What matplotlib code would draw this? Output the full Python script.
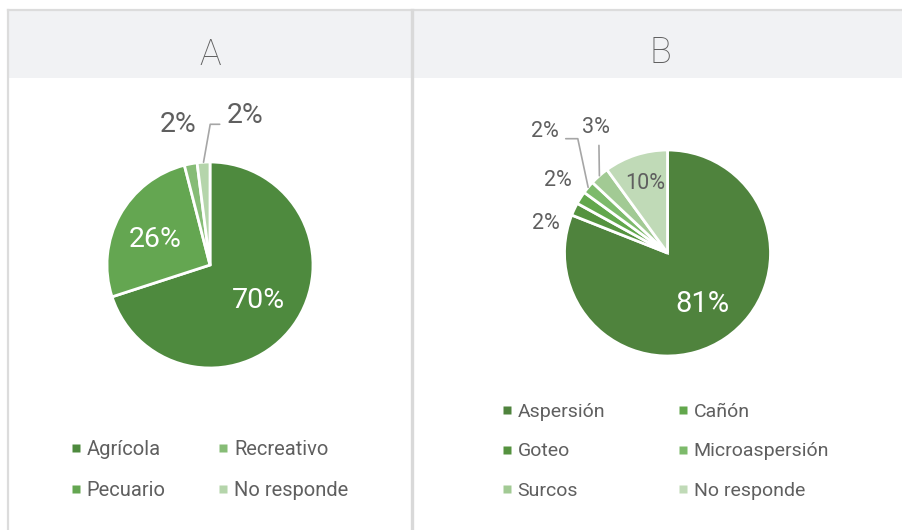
import matplotlib
matplotlib.use('Agg')
import matplotlib.pyplot as plt
from matplotlib.lines import Line2D
from matplotlib.patches import Rectangle
import numpy as np

plt.rcParams['font.family'] = ['Roboto', 'DejaVu Sans']

# ---------------- data ----------------
titles = ['A', 'B']
cats_a = ['Agrícola', 'Pecuario', 'Recreativo', 'No responde']
vals_a = [70, 26, 2, 2]
cats_b = ['Aspersión', 'Goteo', 'Cañón', 'Microaspersión', 'Surcos', 'No responde']
vals_b = [81, 2, 2, 2, 3, 10]

colors_a = ['#4e8a3e', '#64a651', '#86bc76', '#b5d5ab']
colors_b = ['#4f833d', '#55923f', '#62a74c', '#7dba6b', '#a2ca94', '#c0dab7']

TXT = '#5f5f5f'
LINE = '#a6a6a6'
W, H = 902, 530
R = 103

fig = plt.figure(figsize=(W / 100, H / 100), dpi=100)
fig.patch.set_facecolor('white')


def fx(px):
    return px / W


def fy(py):
    return 1 - py / H


# frame / title bands
fig.add_artist(Rectangle((fx(8), fy(78)), 1 - fx(8), (78 - 10) / H,
                         transform=fig.transFigure, facecolor='#f1f2f4',
                         edgecolor='none', zorder=0))
fig.add_artist(Line2D([fx(8), 1], [fy(10), fy(10)], color='#dcdcdc', lw=1.6,
                      transform=fig.transFigure))
fig.add_artist(Line2D([fx(8), fx(8)], [fy(10), 0], color='#dcdcdc', lw=1.6,
                      transform=fig.transFigure))
fig.add_artist(Line2D([fx(411.5), fx(411.5)], [fy(10), 0], color='#d9d9d9', lw=2.4,
                      transform=fig.transFigure))

LW = 'normal'
fig.text(fx(210), fy(55), titles[0], ha='center', va='center', fontsize=26,
         color=TXT, fontweight='light')
fig.text(fx(660), fy(53), titles[1], ha='center', va='center', fontsize=26,
         color=TXT, fontweight='light')


def make_pie(cx, cy, vals, cols):
    ax = fig.add_axes([fx(cx - R), fy(cy + R), 2 * R / W, 2 * R / H])
    wedges, _ = ax.pie(vals, colors=cols, startangle=90, counterclock=False,
                       radius=1, wedgeprops=dict(edgecolor='white', linewidth=2.0))
    ax.set_xlim(-1, 1)
    ax.set_ylim(-1, 1)
    ax.set_axis_off()
    return ax, wedges


def pct(vals, i):
    return f'{vals[i] / sum(vals) * 100:.0f}%'


def mid_point(w, r=1.0):
    a = np.deg2rad((w.theta1 + w.theta2) / 2)
    return r * np.cos(a), r * np.sin(a)


# ---------------- Pie A ----------------
axA, wA = make_pie(210, 265, vals_a, colors_a)
axA.text(*mid_point(wA[0], 0.58), pct(vals_a, 0), ha='center', va='center',
         fontsize=20.5, color='white', fontweight=LW)
axA.text(-0.53, 0.25, pct(vals_a, 1), ha='center', va='center',
         fontsize=20.5, color='white', fontweight=LW)
axA.text(-0.31, 1.36, pct(vals_a, 2), ha='center', va='center',
         fontsize=20.5, color=TXT, fontweight=LW)
axA.annotate(pct(vals_a, 3), xy=mid_point(wA[3], 1.0), xytext=(0.34, 1.45),
             ha='center', va='center', fontsize=20.5, color=TXT, fontweight=LW,
             arrowprops=dict(arrowstyle='-', color=LINE, lw=1.2, shrinkA=3, shrinkB=0,
                             relpos=(0, 0.18),
                             connectionstyle='angle,angleA=0,angleB=80,rad=0'))

# ---------------- Pie B ----------------
axB, wB = make_pie(667.5, 253, vals_b, colors_b)
axB.text(*mid_point(wB[0], 0.6), pct(vals_b, 0), ha='center', va='center',
         fontsize=21, color='white', fontweight=LW)
axB.text(*mid_point(wB[5], 0.714), pct(vals_b, 5), ha='center', va='center',
         fontsize=15.5, color=TXT, fontweight=LW)
axB.text(-1.18, 0.29, pct(vals_b, 1), ha='center', va='center', fontsize=15.5,
         color=TXT, fontweight=LW)
axB.text(-1.063, 0.70, pct(vals_b, 2), ha='center', va='center', fontsize=15.5,
         color=TXT, fontweight=LW)
axB.annotate(pct(vals_b, 3), xy=mid_point(wB[3], 1.0), xytext=(-1.19, 1.175),
             ha='center', va='center', fontsize=15.5, color=TXT, fontweight=LW,
             arrowprops=dict(arrowstyle='-', color=LINE, lw=1.2, shrinkA=3, shrinkB=0,
                             relpos=(1, 0.18),
                             connectionstyle='angle,angleA=0,angleB=102,rad=0'))
axB.annotate(pct(vals_b, 4), xy=mid_point(wB[4], 1.0), xytext=(-0.694, 1.214),
             ha='center', va='center', fontsize=15.5, color=TXT, fontweight=LW,
             arrowprops=dict(arrowstyle='-', color=LINE, lw=1.2, shrinkA=3, shrinkB=0,
                             relpos=(0.6, 0.1), connectionstyle='arc3,rad=0'))


# ---------------- legends ----------------
def col_legend(idx, cats, cols, x, y, fs, spacing):
    handles = [Line2D([], [], marker='s', ls='none', markersize=5.8,
                      markerfacecolor=cols[i], markeredgecolor='none') for i in idx]
    leg = fig.legend(handles, [cats[i] for i in idx], loc='upper left',
                     bbox_to_anchor=(fx(x), fy(y)), bbox_transform=fig.transFigure,
                     frameon=False, handlelength=0.5, handletextpad=0.3,
                     borderpad=0, borderaxespad=0, labelspacing=spacing,
                     labelcolor=TXT, prop=dict(size=fs, weight=LW))
    return leg


col_legend([0, 1], cats_a, colors_a, 70.5, 440, 14.5, 1.1)
col_legend([2, 3], cats_a, colors_a, 218, 440, 14.5, 1.1)
col_legend([0, 1, 4], cats_b, colors_b, 502, 403, 14, 1.1)
col_legend([2, 3, 5], cats_b, colors_b, 678, 403, 14, 1.1)

fig.savefig('out.png', dpi=100, facecolor='white')
